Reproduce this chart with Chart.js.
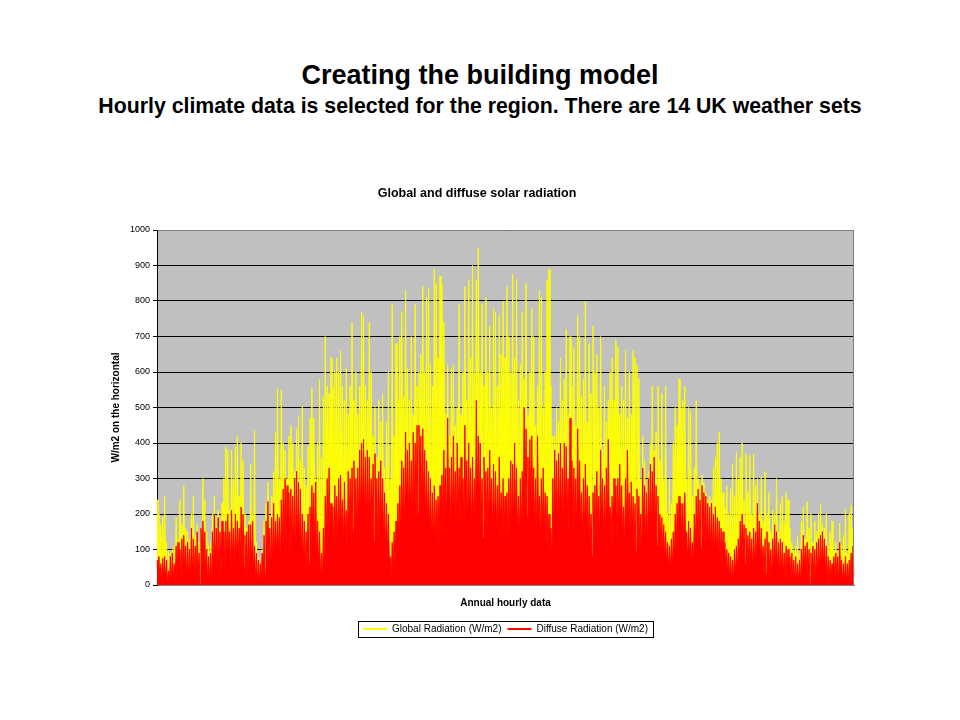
<!DOCTYPE html>
<html>
<head>
<meta charset="utf-8">
<title>Global and diffuse solar radiation</title>
<script src="https://cdn.jsdelivr.net/npm/chart.js@4.4.0/dist/chart.umd.min.js"></script>
<style>
body{margin:0;background:#fff;font-family:"Liberation Sans",Arial,sans-serif;}
#page{position:relative;width:960px;height:720px;overflow:hidden;}
h1,h2{position:absolute;left:0;width:960px;margin:0;text-align:center;font-weight:bold;color:#000;white-space:nowrap;}
h1{top:60px;font-size:27px;}
h2{top:94px;font-size:21.3px;}
#wrap{position:absolute;left:100px;top:180px;width:770px;height:464px;}
</style>
</head>
<body>
<div id="page">
<h1>Creating the building model</h1>
<h2>Hourly climate data is selected for the region. There are 14 UK weather sets</h2>
<div id="wrap"><canvas id="solar"></canvas></div>
</div>
<script>
// values, W/m2, one array per month
// *_jan etc = daily peak, *_jan_low = the dip between two days
var global_jan = [240,200,170,190,250,120,95,90,100,110,190,130,240,170,280,160,150,130,200,250,140,170,120,160,300,240,150,110,120,200,250];
var global_feb = [190,210,160,230,300,390,380,210,380,300,390,420,250,400,350,200,160,180,340,200,435,120,80,60,100,180,230,290];
var global_mar = [190,250,320,430,555,300,550,400,380,300,420,450,400,320,440,475,350,505,330,280,390,470,555,470,300,400,580,360,530,700,560];
var global_apr = [540,640,560,600,640,600,660,560,520,610,480,560,740,520,600,480,560,770,760,560,520,740,600,420,500,360,520,460,540,330];
var global_may = [460,600,300,790,420,680,520,700,770,530,830,610,520,700,480,790,560,600,650,840,600,810,835,620,560,890,850,640,870,850,740];
var global_jun = [480,620,420,610,620,450,500,790,480,600,840,520,860,640,900,600,860,950,600,790,560,810,600,730,500,780,770,560,760,650];
var global_jul = [800,640,840,700,600,875,640,860,520,620,770,580,850,480,600,780,700,450,560,830,810,500,600,860,890,560,420,420,500,460,640];
var global_aug = [520,580,720,480,700,560,670,450,760,700,530,580,800,460,680,540,730,600,650,500,700,380,560,460,520,600,640,520,690,670,480];
var global_sep = [560,520,660,470,600,480,660,640,620,580,300,420,350,280,320,400,560,380,430,560,350,540,300,560,200,300,230,400,500,450];
var global_oct = [580,500,520,560,300,500,490,250,330,520,300,280,310,290,260,240,250,240,330,360,400,430,300,260,220,280,200,270,340,250,375];
var global_nov = [300,360,400,240,370,260,365,200,370,280,300,200,305,180,320,200,260,150,210,200,300,150,230,250,180,260,240,160,120,100];
var global_dec = [110,140,90,180,220,130,235,160,200,120,180,150,200,230,170,160,200,110,150,180,100,120,90,175,110,140,215,90,200,225,160];

var global_jan_low = [30,20,10,30,20,10,0,10,20,0,30,40,10,40,50,20,30,10,40,30,10,40,0,50,60,30,10,0,10,40,60];
var global_feb_low = [40,50,30,60,70,90,110,40,100,60,90,120,50,80,60,30,20,40,70,40,20,10,0,0,20,40,60,80];
var global_mar_low = [40,70,90,120,150,60,140,100,130,80,110,150,120,90,160,140,110,60,50,40,90,110,160,130,60,40,20,10,50,180,200];
var global_apr_low = [220,150,120,180,200,220,240,160,200,120,180,170,230,190,210,180,230,260,250,200,220,230,180,150,190,120,160,180,170,100];
var global_may_low = [120,90,20,50,80,120,160,200,250,220,300,260,230,200,260,250,280,300,240,230,210,190,170,160,150,180,170,200,230,260,280];
var global_jun_low = [220,300,200,240,280,200,260,220,240,200,320,240,280,220,260,210,330,300,260,220,250,230,240,270,200,240,230,200,260,190];
var global_jul_low = [220,180,200,240,260,240,300,230,190,220,240,340,300,250,280,300,240,210,280,190,220,240,190,170,150,100,200,270,250,260,280];
var global_aug_low = [230,280,270,200,320,240,230,200,300,240,180,210,240,190,170,130,180,200,230,180,260,200,190,230,280,150,170,210,190,200,230];
var global_sep_low = [190,150,210,260,170,190,160,150,180,160,120,210,180,170,200,230,210,240,180,160,120,110,90,80,60,50,60,80,120,150];
var global_oct_low = [160,140,140,170,90,110,100,70,120,160,170,150,180,160,150,130,120,130,110,120,100,90,80,70,50,40,30,20,10,30,40];
var global_nov_low = [50,90,110,80,70,50,60,40,70,60,120,80,60,30,40,50,30,20,40,70,50,30,40,30,10,20,10,0,10,0];
var global_dec_low = [10,0,0,20,50,20,30,10,0,20,10,30,40,50,60,40,20,0,0,0,10,20,10,40,0,0,10,0,0,20,30];

var diffuse_jan = [70,80,60,75,80,70,40,80,90,60,110,120,100,130,140,110,120,100,160,130,110,150,90,160,180,150,100,80,90,150,200];
var diffuse_feb = [160,190,150,180,150,180,200,150,210,160,200,180,160,220,200,140,150,170,170,180,110,90,70,60,90,140,180,235];
var diffuse_mar = [160,190,230,180,200,190,240,270,300,280,260,270,250,300,320,290,270,200,180,150,200,220,280,260,290,180,150,90,160,250,300];
var diffuse_apr = [330,230,220,280,250,300,310,240,290,210,320,300,330,350,300,330,380,400,410,360,380,360,300,340,370,300,320,350,300,260];
var diffuse_may = [230,200,80,120,150,180,230,280,350,330,430,380,400,350,430,400,450,450,420,440,380,350,320,300,260,280,240,250,280,310,380];
var diffuse_jun = [330,470,330,360,420,320,400,330,360,300,450,350,400,330,360,300,520,420,400,300,360,320,330,380,300,340,320,280,360,260];
var diffuse_jul = [300,250,260,300,350,340,400,330,250,300,320,500,440,360,410,420,330,300,420,250,300,330,260,250,200,160,300,380,350,370,400];
var diffuse_aug = [330,400,390,300,470,350,330,300,440,350,260,300,340,280,250,200,260,280,320,250,380,300,280,330,410,220,250,300,280,300,340];
var diffuse_sep = [280,220,300,380,260,290,250,230,270,250,200,330,280,260,300,340,320,360,280,250,200,190,170,150,120,110,130,150,200,230];
var diffuse_oct = [250,230,230,260,150,180,160,120,200,250,270,240,280,260,250,230,220,230,200,220,190,180,160,150,120,100,90,80,70,100,110];
var diffuse_nov = [130,180,200,170,160,140,150,130,160,150,230,180,160,110,130,150,120,100,130,170,150,120,130,120,90,110,100,80,90,70];
var diffuse_dec = [80,60,70,100,140,110,120,100,90,110,100,120,130,140,150,130,110,80,70,60,80,90,80,120,70,60,80,60,70,90,110];

var diffuse_jan_low = [10,10,0,20,10,0,0,0,10,0,20,30,0,30,40,10,20,0,30,20,0,30,0,40,50,20,0,0,0,30,50];
var diffuse_feb_low = [30,40,20,50,40,60,80,30,70,40,60,80,40,60,50,20,10,30,50,30,10,0,0,0,10,30,50,60];
var diffuse_mar_low = [30,50,60,80,90,40,90,80,100,70,80,100,90,70,110,100,80,50,40,30,60,70,110,90,50,30,10,0,30,110,130];
var diffuse_apr_low = [150,100,80,120,110,140,150,100,130,80,140,120,150,160,130,150,170,190,180,150,160,170,130,120,150,90,120,140,120,80];
var diffuse_may_low = [90,70,10,30,50,70,100,120,160,140,200,170,180,150,190,180,200,200,180,190,160,150,130,120,100,120,110,110,130,150,180];
var diffuse_jun_low = [150,210,140,160,190,140,180,150,160,130,200,150,180,140,160,130,230,190,170,130,160,140,150,170,130,150,140,120,160,110];
var diffuse_jul_low = [130,110,110,130,150,150,180,140,110,130,140,220,190,150,180,190,140,130,180,110,130,140,110,100,80,60,130,170,150,160,180];
var diffuse_aug_low = [140,180,170,130,210,150,140,130,190,150,110,130,150,120,110,80,110,120,140,110,170,130,120,140,180,90,110,130,120,130,150];
var diffuse_sep_low = [120,90,130,170,110,120,100,90,110,100,80,140,110,100,120,140,130,150,110,100,80,70,60,50,40,30,40,50,80,100];
var diffuse_oct_low = [100,90,90,110,60,70,60,40,80,100,110,100,120,100,100,90,80,90,70,80,70,60,50,40,30,20,10,10,0,20,30];
var diffuse_nov_low = [40,70,80,60,50,40,50,30,50,40,90,60,50,20,30,40,20,10,30,50,40,20,30,20,0,10,0,0,0,0];
var diffuse_dec_low = [0,0,0,10,40,10,20,0,0,10,0,20,30,40,50,30,10,0,0,0,0,10,0,30,0,0,0,0,0,10,20];

var yTicks = [0,100,200,300,400,500,600,700,800,900,1000];

function joinYear(a){ return [].concat.apply([],a); }
// peak and dip of each day one after the other, as the hourly trace goes
function dayTrace(peaks,lows){
	if(peaks.length!==lows.length) throw new Error('peak/low length mismatch '+peaks.length+' '+lows.length);
	var out = [];
	for(var i=0;i<peaks.length;i++){ out.push(peaks[i]); out.push(lows[i]); }
	return out;
}

var globalRad = dayTrace(
	joinYear([global_jan,global_feb,global_mar,global_apr,global_may,global_jun,global_jul,global_aug,global_sep,global_oct,global_nov,global_dec]),
	joinYear([global_jan_low,global_feb_low,global_mar_low,global_apr_low,global_may_low,global_jun_low,global_jul_low,global_aug_low,global_sep_low,global_oct_low,global_nov_low,global_dec_low]));
var diffuseRad = dayTrace(
	joinYear([diffuse_jan,diffuse_feb,diffuse_mar,diffuse_apr,diffuse_may,diffuse_jun,diffuse_jul,diffuse_aug,diffuse_sep,diffuse_oct,diffuse_nov,diffuse_dec]),
	joinYear([diffuse_jan_low,diffuse_feb_low,diffuse_mar_low,diffuse_apr_low,diffuse_may_low,diffuse_jun_low,diffuse_jul_low,diffuse_aug_low,diffuse_sep_low,diffuse_oct_low,diffuse_nov_low,diffuse_dec_low]));
if(globalRad.length!==730 || diffuseRad.length!==730) throw new Error('series length '+globalRad.length+' '+diffuseRad.length);
var steps = globalRad.map(function(v,i){ return i+1; });

Chart.defaults.font.family = '"Liberation Sans", Arial, sans-serif';
Chart.defaults.color = '#000';

// grey plot area like the old Excel chart, plus the legend frame
var plotBg = {
	id:'plotBg',
	beforeDraw:function(chart){
		var a = chart.chartArea, ctx = chart.ctx;
		ctx.save();
		ctx.fillStyle = '#c0c0c0';
		ctx.fillRect(a.left,a.top,a.right-a.left,a.bottom-a.top);
		ctx.restore();
	},
	afterDraw:function(chart){
		var a = chart.chartArea, ctx = chart.ctx;
		ctx.save();
		ctx.strokeStyle = '#808080';
		ctx.lineWidth = 1;
		ctx.beginPath();
		ctx.moveTo(a.left+0.5,a.top+0.5);ctx.lineTo(a.right-0.5,a.top+0.5);ctx.lineTo(a.right-0.5,a.bottom-0.5);
		ctx.stroke();
		var hb = chart.legend.legendHitBoxes;
		if(hb && hb.length){
			var l = hb[0].left, r = hb[0].left+hb[0].width, t = hb[0].top, h = hb[0].height;
			for(var i=1;i<hb.length;i++){
				l = Math.min(l,hb[i].left); r = Math.max(r,hb[i].left+hb[i].width);
			}
			ctx.strokeStyle = '#000';
			ctx.strokeRect(Math.round(l-5)+0.5,Math.round(t-3)+0.5,Math.round(r-l+10),h+6);
		}
		ctx.restore();
	}
};

var ctx = document.getElementById('solar').getContext('2d');
window.solar = new Chart(ctx,{
	type:'line',
	data:{
		labels:steps,
		datasets:[{
			label:'Global Radiation (W/m2)',
			data:globalRad,
			borderColor:'#ffff00',
			backgroundColor:'#ffff00',
			borderWidth:1,
			pointRadius:0,
			tension:0,
			fill:'origin',
			order:2
		},{
			label:'Diffuse Radiation (W/m2)',
			data:diffuseRad,
			borderColor:'#ff0000',
			backgroundColor:'#ff0000',
			borderWidth:1,
			pointRadius:0,
			tension:0,
			fill:'origin',
			order:1
		}]
	},
	options:{
		responsive:true,
		maintainAspectRatio:false,
		animation:false,
		layout:{padding:{left:0,right:16,top:0,bottom:0}},
		plugins:{
			title:{display:true,text:'Global and diffuse solar radiation',font:{size:12.5,weight:'bold'},padding:{top:6,bottom:29}},
			legend:{
				position:'bottom',
				fullSize:false,
				labels:{
					font:{size:10},
					usePointStyle:true,
					pointStyle:'line',
					pointStyleWidth:24,
					padding:6,
					sort:function(a,b){ return a.datasetIndex-b.datasetIndex; },
					generateLabels:function(chart){
						return Chart.defaults.plugins.legend.labels.generateLabels(chart).map(function(it){
							it.lineWidth = 2; it.pointStyle = 'line'; return it;
						});
					}
				}
			},
			tooltip:{enabled:false}
		},
		scales:{
			x:{
				type:'category',
				offset:false,
				grid:{display:false},
				border:{color:'#808080'},
				ticks:{display:false},
				title:{display:true,text:'Annual hourly data',font:{size:10,weight:'bold'},padding:{top:0,bottom:9}},
				afterFit:function(s){ s.height = 33; }
			},
			y:{
				min:0,max:1000,
				afterBuildTicks:function(s){ s.ticks = yTicks.map(function(v){ return {value:v}; }); },
				grid:{color:'#000',tickColor:'#000',tickLength:4,lineWidth:1},
				border:{color:'#000'},
				ticks:{font:{size:9},padding:3,callback:function(v){ return String(v); }},
				title:{display:true,text:'W/m2 on the horizontal',font:{size:10,weight:'bold'},padding:{top:10,bottom:0}},
				afterFit:function(s){ s.width = 57; }
			}
		}
	},
	plugins:[plotBg]
});
</script>
</body>
</html>
